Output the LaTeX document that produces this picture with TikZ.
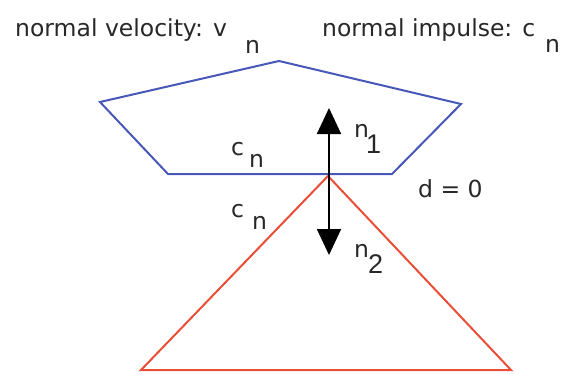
\documentclass[tikz,border=0pt]{standalone}
\usepackage{fontspec}
\setmainfont{DejaVu Sans}
\newfontfamily\digitfont{Liberation Sans}
\usetikzlibrary{arrows.meta}
\definecolor{pentblue}{RGB}{72,88,184}
\definecolor{trired}{RGB}{234,78,56}
\definecolor{txtgray}{RGB}{40,40,40}
\tikzset{
  lbl/.style={inner sep=0pt, anchor=base west, font=\fontsize{23.5}{26}\selectfont, text=txtgray},
  dig/.style={lbl, font=\digitfont\fontsize{27}{30}\selectfont},
  bigarrow/.style={line width=1.8pt, -{Triangle[width=24pt,length=26pt]}},
  pent/.style={draw=pentblue, line width=2pt, line join=miter},
  tri/.style={draw=trired, line width=2pt, line join=miter}
}
\begin{document}
\begin{tikzpicture}[x=1pt,y=-1pt]
\useasboundingbox[fill=white] (0,0) rectangle (578,373);
% pentagon
\coordinate (ptop) at (279,61);
\coordinate (pleft) at (100,102);
\coordinate (pright) at (461,104);
\coordinate (pbl) at (168,174);
\coordinate (pbr) at (392,174);
\draw[pent] (ptop) -- (pright) -- (pbr) -- (pbl) -- (pleft) -- cycle;
% triangle
\coordinate (tapex) at (328,176);
\coordinate (tbl) at (141,370);
\coordinate (tbr) at (511,370);
\draw[tri] (tapex) -- (tbr) -- (tbl) -- cycle;
% normals
\coordinate (contact) at (329,176);
\coordinate (n1tip) at (329,108);
\coordinate (n2tip) at (329,255);
\draw[bigarrow] (contact) -- (n1tip);
\draw[bigarrow] (contact) -- (n2tip);
% titles
\node[lbl] (vel) at (15,36) {normal velocity: v};
\node[lbl] (velsub) at (245,53) {n};
\node[lbl] (imp) at (322,36) {normal impulse: c};
\node[lbl] (impsub) at (545,52) {n};
% labels
\node[lbl] (n1a) at (354,137) {n};
\node[dig] (n1b) at (366,153) {1};
\node[lbl] (n2a) at (354,257) {n};
\node[dig] (n2b) at (368,273) {2};
\node[lbl] (cua) at (231,155) {c};
\node[lbl] (cub) at (249,167) {n};
\node[lbl] (cla) at (231,217) {c};
\node[lbl] (clb) at (252,229) {n};
\node[lbl] (d) at (418,197) {d = 0};
\end{tikzpicture}
\end{document}
